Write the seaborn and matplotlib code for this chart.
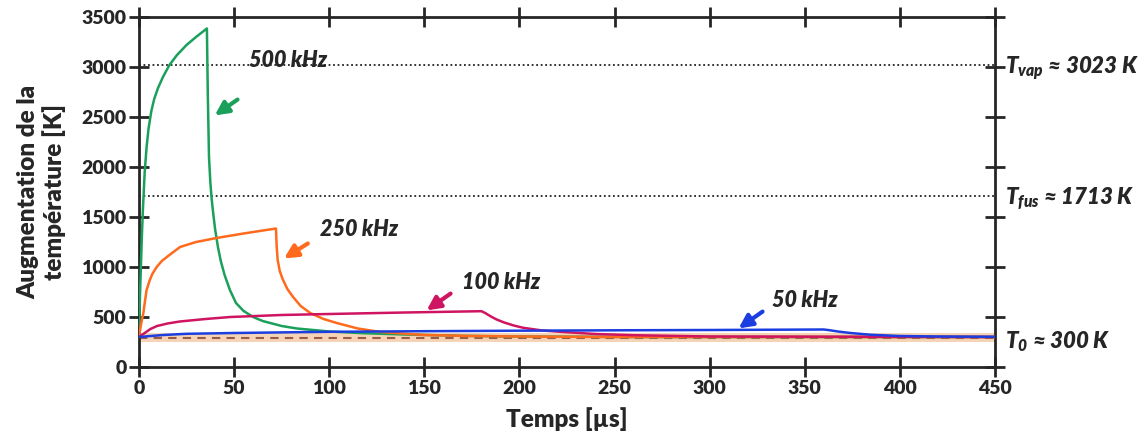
import numpy as np
import pandas as pd
import seaborn as sns
import matplotlib.pyplot as plt

# curves: time [us] and temperature [K]
t_500 = [0, 0.5, 1, 1.5, 2, 3, 4, 5, 6.5, 8, 10, 12.6, 16, 20, 25, 30, 35.7,
         36.2, 36.8, 37.5, 38.2, 39, 40, 41.5, 43, 45, 47.8, 51, 55, 60, 65, 75, 83,
         100, 118, 140, 170, 200, 260, 450]
T_500 = [300, 700, 1000, 1300, 1550, 1950, 2200, 2380, 2560, 2680, 2790, 2900, 3020, 3120, 3220,
         3300, 3385,
         2700, 2100, 1850, 1680, 1540, 1380, 1200, 1060, 920, 770, 640, 560, 500, 460, 410, 385,
         355, 338, 325, 312, 305, 300, 300]

t_250 = [0, 1, 2.3, 3, 4, 5.5, 7, 9.3, 12, 16, 21.6, 30, 40.8, 55, 72,
         72.4, 72.9, 74, 75.5, 78, 81, 85, 90, 97, 104, 115, 127, 150, 175, 200, 250, 450]
T_250 = [300, 420, 540, 640, 770, 860, 930, 1000, 1060, 1120, 1200, 1250, 1290, 1335, 1385,
         1200, 1070, 960, 880, 780, 700, 610, 540, 480, 440, 385, 350, 320, 310, 305, 300, 300]

t_100 = [0, 3, 6, 9.5, 15, 21.5, 35, 48, 75, 100, 140, 180,
         182, 185, 188, 192, 197, 202, 212, 223, 240, 260, 300, 450]
T_100 = [300, 340, 380, 410, 435, 455, 480, 500, 520, 530, 545, 558,
         540, 505, 475, 445, 415, 392, 365, 350, 330, 318, 305, 300]

t_50 = [0, 5, 12.8, 25, 50, 100, 150, 200, 250, 300, 360,
        363, 367, 374, 385, 400, 420, 450]
T_50 = [300, 308, 320, 332, 340, 352, 358, 363, 367, 370, 375,
        368, 356, 340, 322, 310, 305, 302]

T0, T_fus, T_vap = 300, 1713, 3023

labels = ["500 kHz", "250 kHz", "100 kHz", "50 kHz"]
colors = ["#1aa05a", "#ff6a1c", "#cf1462", "#1c3ee0"]

df = pd.concat([
    pd.DataFrame({"t": t_500, "T": T_500, "f": "500 kHz"}),
    pd.DataFrame({"t": t_250, "T": T_250, "f": "250 kHz"}),
    pd.DataFrame({"t": t_100, "T": T_100, "f": "100 kHz"}),
    pd.DataFrame({"t": t_50, "T": T_50, "f": "50 kHz"}),
])

sns.set_style("ticks")
plt.rcParams["font.family"] = ["Lato", "DejaVu Sans"]
plt.rcParams["mathtext.default"] = "regular"

fig = plt.figure(figsize=(11.43, 4.41), dpi=100)
ax = fig.add_axes([0.1216, 0.1678, 0.7489, 0.7937])

# baseline band and dashed T0 line
ax.axhspan(245, 335, color="#f3c8a4", alpha=0.8, lw=0, zorder=1)
ax.axhline(T0 - 10, color="#9b5a45", ls=(0, (4, 3)), lw=1.5, zorder=2)

sns.lineplot(data=df, x="t", y="T", hue="f", hue_order=labels, palette=colors,
             sort=False, estimator=None, lw=1.8, legend=False, ax=ax, zorder=3)

ax.axhline(T_vap, color="#222222", ls=(0, (1, 1.5)), lw=1.3, zorder=2)
ax.axhline(T_fus, color="#222222", ls=(0, (1, 1.5)), lw=1.3, zorder=2)

ax.set_xlim(0, 450)
ax.set_ylim(0, 3500)
ax.set_xticks(np.arange(0, 451, 50))
ax.set_yticks(np.arange(0, 3501, 500))
for s in ax.spines.values():
    s.set_visible(True)
    s.set_linewidth(2)
ax.tick_params(axis="both", which="major", direction="inout", length=14, width=2,
               labelsize=14, top=True, right=True, pad=2)
for lab in ax.get_xticklabels() + ax.get_yticklabels():
    lab.set_fontweight("heavy")

ax.set_xlabel("Temps [µs]", fontsize=17.5, fontweight="heavy", labelpad=8)
ax.set_ylabel("Augmentation de la\ntempérature [K]", fontsize=17.5, fontweight="heavy",
              labelpad=11, linespacing=1.15)

# frequency labels with arrows
notes = [
    ("500 kHz", (38.6, 2500), (53, 2690), (58, 3060)),
    ("250 kHz", (75, 1070), (90, 1250), (95, 1370)),
    ("100 kHz", (150, 550), (165, 750), (170, 840)),
    ("50 kHz", (314, 370), (329, 570), (333, 660)),
]
for (lab, head, tail, txt), c in zip(notes, colors):
    ax.annotate("", xy=head, xytext=tail,
                arrowprops=dict(arrowstyle="-|>,head_length=0.8,head_width=0.4", color=c, lw=3))
    ax.text(txt[0], txt[1], lab, fontsize=15.5, fontweight="heavy", style="italic",
            va="center", ha="left")

# right side temperature labels
kw = dict(fontsize=16, fontweight="heavy", style="italic", va="center", ha="left",
          transform=ax.get_yaxis_transform(), clip_on=False)
ax.text(1.012, T_vap - 30, "T$_{vap}$ ≈ 3023 K", **kw)
ax.text(1.012, T_fus - 30, "T$_{fus}$ ≈ 1713 K", **kw)
ax.text(1.012, T0 - 50, "T$_{0}$ ≈ 300 K", **kw)

fig.savefig("out.png", dpi=100)
